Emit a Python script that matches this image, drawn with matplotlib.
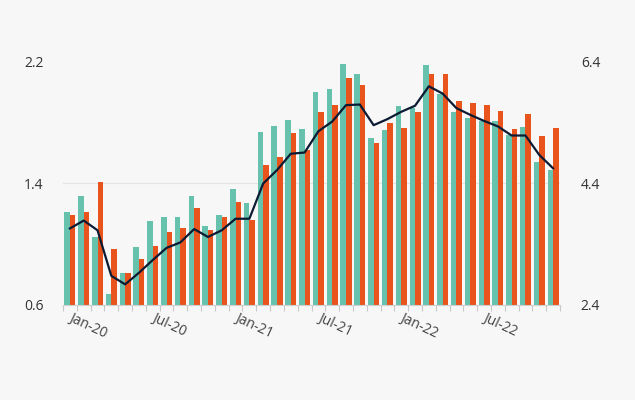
import matplotlib
matplotlib.use("Agg")
import matplotlib.pyplot as plt
import numpy as np

months = ["Jan", "Feb", "Mar", "Apr", "May", "Jun", "Jul", "Aug", "Sep", "Oct", "Nov", "Dec"]
categories = [f"{m}-{y}" for y in ["20", "21", "22"] for m in months]
tick_labels = ["Jan-20", "Jul-20", "Jan-21", "Jul-21", "Jan-22", "Jul-22"]

teal_values = [1.21, 1.32, 1.05, 0.67, 0.81, 0.98, 1.15, 1.18, 1.18, 1.32, 1.12, 1.19,
               1.365, 1.27, 1.74, 1.78, 1.82, 1.76, 2.00, 2.02, 2.19, 2.12, 1.70, 1.75,
               1.91, 1.90, 2.18, 1.99, 1.87, 1.83, 1.81, 1.81, 1.72, 1.77, 1.54, 1.49]
orange_values = [1.19, 1.21, 1.41, 0.97, 0.81, 0.90, 0.99, 1.08, 1.105, 1.24, 1.095, 1.18,
                 1.28, 1.16, 1.525, 1.575, 1.735, 1.62, 1.87, 1.92, 2.095, 2.05, 1.665, 1.80,
                 1.765, 1.87, 2.12, 2.12, 1.945, 1.93, 1.915, 1.88, 1.76, 1.855, 1.71, 1.765]
line_values = [3.66, 3.79, 3.63, 2.88, 2.74, 2.93, 3.14, 3.34, 3.43, 3.65, 3.52, 3.63,
               3.82, 3.82, 4.40, 4.62, 4.89, 4.91, 5.26, 5.42, 5.69, 5.70, 5.36, 5.46,
               5.58, 5.68, 6.00, 5.88, 5.64, 5.53, 5.43, 5.34, 5.19, 5.19, 4.87, 4.65]

left_ticks = [0.6, 1.4, 2.2]
right_ticks = [2.4, 4.4, 6.4]

plt.rcParams['font.family'] = ['Open Sans', 'DejaVu Sans']

BG = "#f7f7f7"
TEAL = "#66c2ad"
ORANGE = "#e8541c"
LINE = "#0c1a33"

fig = plt.figure(figsize=(6.35, 4.0), dpi=100, facecolor=BG)
ax = fig.add_axes([63/635, 1 - 305/400, (560-63)/635, (305-62)/400])
ax.set_facecolor(BG)

x = np.arange(len(categories))
bw = 0.4
ax.bar(x - bw/2, teal_values, width=bw, color=TEAL, bottom=0, zorder=2)
ax.bar(x + bw/2, orange_values, width=bw, color=ORANGE, bottom=0, zorder=2)
ax.set_ylim(left_ticks[0], left_ticks[-1])
ax.set_xlim(-0.5, len(categories) - 0.5)
ax.set_yticks(left_ticks)
ax.set_yticklabels([f"{v:.1f}" for v in left_ticks])
ax.axhline(1.4, color="#e4e4e4", lw=0.8, zorder=1)

for s in ["top", "right", "left"]:
    ax.spines[s].set_visible(False)
ax.spines["bottom"].set_color("#d0d0d0")
ax.spines["bottom"].set_linewidth(0.8)

tick_pos = [categories.index(t) for t in tick_labels]
ax.set_xticks(tick_pos)
ax.set_xticklabels(tick_labels, rotation=-25, ha="left", va="center",
                   rotation_mode="anchor", color="#444444", fontsize=10)
ax.tick_params(axis="x", which="major", length=0, pad=9)
ax.set_xticks(np.arange(-0.5, len(categories) + 0.5, 1), minor=True)
ax.tick_params(axis="x", which="minor", length=4, color="#c8c8c8", width=0.8)
ax.tick_params(axis="y", length=0, pad=14, labelcolor="#333333", labelsize=10)

ax2 = ax.twinx()
ax2.plot(x, line_values, color=LINE, lw=1.6, zorder=3)
ax2.set_ylim(right_ticks[0], right_ticks[-1])
ax2.set_yticks(right_ticks)
ax2.set_yticklabels([f"{v:.1f}" for v in right_ticks])
ax2.tick_params(axis="y", length=0, pad=15, labelcolor="#333333", labelsize=10)
for s in ["top", "right", "left", "bottom"]:
    ax2.spines[s].set_visible(False)

fig.savefig("out.png", dpi=100, facecolor=BG)
